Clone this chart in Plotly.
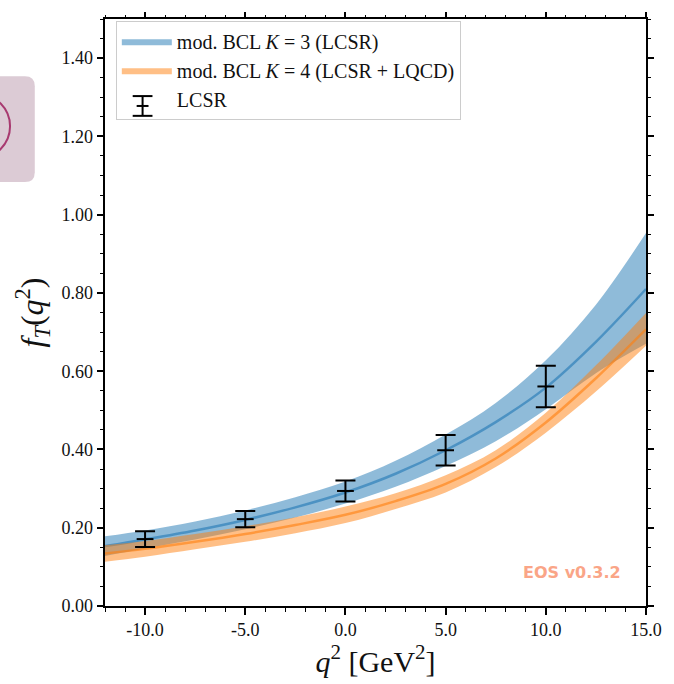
import plotly.graph_objects as go

# ---------------- data ----------------
q2_grid = [-12, -10, -7.5, -5, -2.5, 0, 2.5, 5, 7.5, 10, 12.5, 15]

k3_center = [0.153, 0.170, 0.193, 0.220, 0.252, 0.290, 0.338, 0.398, 0.470, 0.558, 0.675, 0.810]
k3_upper = [0.178, 0.193, 0.216, 0.244, 0.278, 0.318, 0.371, 0.438, 0.519, 0.628, 0.770, 0.953]
k3_lower = [0.128, 0.147, 0.170, 0.196, 0.226, 0.262, 0.305, 0.358, 0.421, 0.503, 0.595, 0.670]

k4_center = [0.134, 0.146, 0.164, 0.184, 0.207, 0.233, 0.268, 0.312, 0.377, 0.469, 0.582, 0.707]
k4_upper = [0.155, 0.166, 0.184, 0.204, 0.227, 0.254, 0.288, 0.334, 0.398, 0.494, 0.615, 0.749]
k4_lower = [0.113, 0.126, 0.145, 0.164, 0.186, 0.212, 0.248, 0.290, 0.355, 0.443, 0.548, 0.665]

lcsr_q2 = [-10, -5, 0, 5, 10]
lcsr_val = [0.171, 0.222, 0.294, 0.398, 0.561]
lcsr_err = [0.020, 0.021, 0.027, 0.039, 0.053]

x_tickvals = [-10, -5, 0, 5, 10, 15]
x_ticktext = ["-10.0", "-5.0", "0.0", "5.0", "10.0", "15.0"]
y_tickvals = [0.0, 0.2, 0.4, 0.6, 0.8, 1.0, 1.2, 1.4]
y_ticktext = ["0.00", "0.20", "0.40", "0.60", "0.80", "1.00", "1.20", "1.40"]

label_k3 = "mod. BCL <i>K</i> = 3 (LCSR)"
label_k4 = "mod. BCL <i>K</i> = 4 (LCSR + LQCD)"
label_lcsr = "LCSR"

BLUE = "31,119,180"
ORANGE = "255,127,14"
SERIF = "Liberation Serif, DejaVu Serif, serif"
INK = "#111111"

X_RANGE = [-12, 15]
Y_RANGE = [0, 1.5]

fig = go.Figure()

def band(upper, lower, center, rgb, name, group):
    fig.add_trace(go.Scatter(x=q2_grid, y=upper, mode="lines", line=dict(width=0, shape="spline"),
                             showlegend=False, hoverinfo="skip", legendgroup=group))
    fig.add_trace(go.Scatter(x=q2_grid, y=lower, mode="lines", line=dict(width=0, shape="spline"),
                             fill="tonexty", fillcolor=f"rgba({rgb},0.5)", name=name,
                             legendgroup=group, showlegend=True))
    fig.add_trace(go.Scatter(x=q2_grid, y=center, mode="lines",
                             line=dict(width=2.5, color=f"rgba({rgb},0.6)", shape="spline"),
                             showlegend=False, legendgroup=group))

band(k3_upper, k3_lower, k3_center, BLUE, label_k3, "k3")
band(k4_upper, k4_lower, k4_center, ORANGE, label_k4, "k4")

fig.add_trace(go.Scatter(
    x=lcsr_q2, y=lcsr_val, mode="markers", name=label_lcsr, showlegend=False,
    marker=dict(symbol="line-ew", size=12, color="black", line=dict(width=2, color="black")),
    error_y=dict(type="data", array=lcsr_err, visible=True, color="black", thickness=2, width=10),
))
# legend entry for LCSR (its I-beam glyph is drawn as shapes below)
fig.add_trace(go.Scatter(
    x=[None], y=[None], mode="markers", name=label_lcsr, legendgroup="lcsr",
    marker=dict(symbol="line-ew", size=12, color="rgba(0,0,0,0)", line=dict(width=0, color="rgba(0,0,0,0)")),
))

# empty trace that anchors the mirrored (top / right) tick axes
fig.add_trace(go.Scatter(x=[None], y=[None], xaxis="x2", yaxis="y2", showlegend=False, hoverinfo="skip"))

tick_font = dict(family=SERIF, size=18, color=INK)
minor_x = dict(tickmode="linear", tick0=0, dtick=1, ticks="outside", ticklen=3.5, tickwidth=1.2, tickcolor="black")
minor_y = dict(tickmode="linear", tick0=0, dtick=0.05, ticks="outside", ticklen=3.5, tickwidth=1.2, tickcolor="black")
base = dict(showgrid=False, zeroline=False, ticks="outside", ticklen=6.5, tickwidth=1.5, tickcolor="black")

fig.update_layout(
    xaxis=dict(range=X_RANGE, tickmode="array", tickvals=x_tickvals, ticktext=x_ticktext,
               showline=True, linecolor="black", linewidth=2, mirror=True,
               minor=minor_x, tickfont=tick_font,
               title=dict(text="<i>q</i><sup>2</sup> [GeV<sup>2</sup>]",
                          font=dict(family=SERIF, size=30, color=INK), standoff=4),
               **base),
    yaxis=dict(range=Y_RANGE, tickmode="array", tickvals=y_tickvals, ticktext=y_ticktext,
               showline=True, linecolor="black", linewidth=2, mirror=True,
               minor=minor_y, tickfont=tick_font,
               title=dict(text="<i>f</i><sub><i>T</i></sub>(<i>q</i><sup>2</sup>)",
                          font=dict(family=SERIF, size=32, color=INK), standoff=8),
               **base),
    xaxis2=dict(range=X_RANGE, overlaying="x", side="top", tickmode="array", tickvals=x_tickvals,
                showticklabels=False, showline=False, minor=minor_x, anchor="y2", **base),
    yaxis2=dict(range=Y_RANGE, overlaying="y", side="right", tickmode="array", tickvals=y_tickvals,
                showticklabels=False, showline=False, minor=minor_y, anchor="x2", **base),
)

# pixel -> paper helpers for decorations
def rpx(px):
    return (px - 105) / 547.0

def rpy(py):
    return (606 - py) / 594.0

# decorative rounded badge on the far left (screenshot artefact)
x0, x1, y0, y1 = rpx(-12), rpx(34), rpy(177), rpy(70)
rx, ry = 10 / 547.0, 10 / 594.0
path = (f"M {x0+rx},{y0} L {x1-rx},{y0} Q {x1},{y0} {x1},{y0+ry} L {x1},{y1-ry} "
        f"Q {x1},{y1} {x1-rx},{y1} L {x0+rx},{y1} Q {x0},{y1} {x0},{y1-ry} "
        f"L {x0},{y0+ry} Q {x0},{y0} {x0+rx},{y0} Z")
fig.add_shape(type="path", path=path, xref="paper", yref="paper",
              fillcolor="rgb(220,203,213)", line=dict(width=0), layer="below")
fig.add_shape(type="circle", xref="paper", yref="paper",
              x0=rpx(-56), x1=rpx(9), y0=rpy(153), y1=rpy(88),
              line=dict(color="rgb(168,58,112)", width=2))

# I-beam glyph for the LCSR legend entry (vertical bar, caps and centre tick)
ib_x, ib_y = 143, 100
glyph = [(0, -10, 0, 10), (-10, -10, 10, -10), (-10, 10, 10, 10), (-6, 0, 6, 0)]
for ax0, ay0, ax1, ay1 in glyph:
    fig.add_shape(type="line", xref="paper", yref="paper",
                  x0=rpx(ib_x + ax0), x1=rpx(ib_x + ax1), y0=rpy(ib_y + ay0), y1=rpy(ib_y + ay1),
                  line=dict(color="black", width=2), layer="above")

fig.add_annotation(text="<b>EOS v0.3.2</b>", xref="paper", yref="paper",
                   x=rpx(629), y=rpy(572), xanchor="right", yanchor="middle", showarrow=False,
                   font=dict(family="DejaVu Sans, sans-serif", size=16, color="rgb(250,165,135)"))

fig.update_layout(
    width=674, height=684,
    margin=dict(l=105, r=22, t=12, b=78),
    plot_bgcolor="white", paper_bgcolor="white",
    showlegend=True,
    legend=dict(x=0.02, y=0.997, xanchor="left", yanchor="top",
                bgcolor="rgba(255,255,255,0)", bordercolor="#cccccc", borderwidth=1,
                font=dict(family=SERIF, size=20, color=INK),
                traceorder="grouped", tracegroupgap=0, itemwidth=50),
)

fig.write_html("out.html")
